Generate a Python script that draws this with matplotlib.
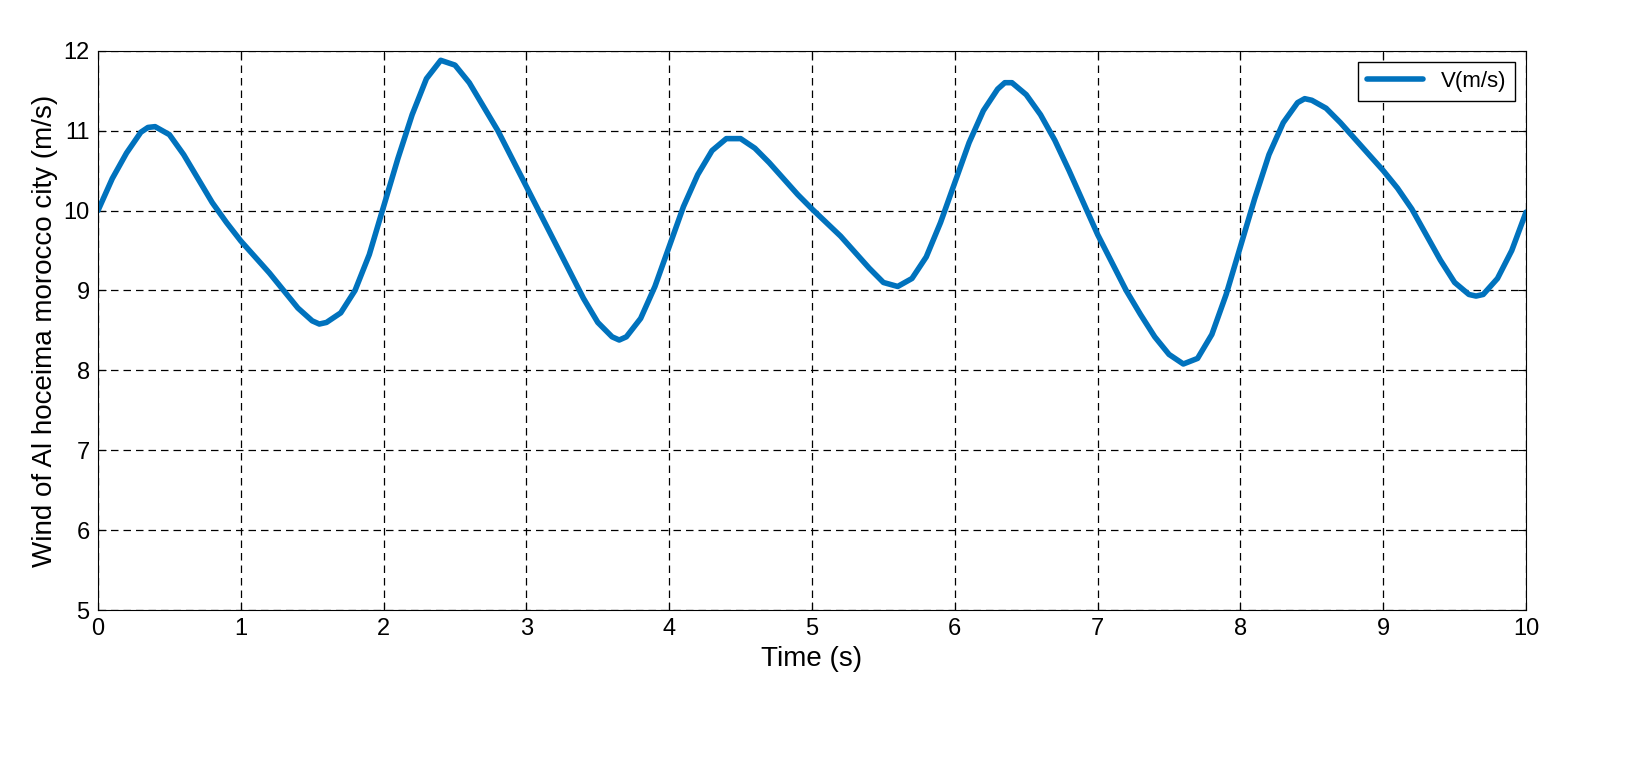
import numpy as np
import matplotlib.pyplot as plt

plt.rcParams['font.family'] = ['Liberation Sans', 'DejaVu Sans']

# values
time_s = [0, 0.1, 0.2, 0.3, 0.35, 0.4, 0.5, 0.6, 0.7, 0.8, 0.9, 1.0, 1.1,
          1.2, 1.3, 1.4, 1.5, 1.55, 1.6, 1.7, 1.8, 1.9, 2.0, 2.1, 2.2, 2.3,
          2.4, 2.5, 2.6, 2.7, 2.8, 2.9, 3.0, 3.1, 3.2, 3.3, 3.4, 3.5, 3.6,
          3.65, 3.7, 3.8, 3.9, 4.0, 4.1, 4.2, 4.3, 4.4, 4.5, 4.6, 4.7, 4.8,
          4.9, 5.0, 5.1, 5.2, 5.3, 5.4, 5.5, 5.6, 5.7, 5.8, 5.9, 6.0, 6.1,
          6.2, 6.3, 6.35, 6.4, 6.5, 6.6, 6.7, 6.8, 6.9, 7.0, 7.1, 7.2, 7.3,
          7.4, 7.5, 7.6, 7.7, 7.8, 7.9, 8.0, 8.1, 8.2, 8.3, 8.4, 8.45, 8.5,
          8.6, 8.7, 8.8, 8.9, 9.0, 9.1, 9.2, 9.3, 9.4, 9.5, 9.6, 9.65, 9.7,
          9.8, 9.9, 10.0]
wind = [10.0, 10.4, 10.72, 10.98, 11.04, 11.05, 10.95, 10.7, 10.4, 10.1,
        9.85, 9.62, 9.42, 9.22, 9.0, 8.78, 8.62, 8.58, 8.6, 8.72, 9.0, 9.45,
        10.05, 10.65, 11.2, 11.65, 11.88, 11.82, 11.6, 11.3, 11.0, 10.65,
        10.3, 9.95, 9.6, 9.25, 8.9, 8.6, 8.42, 8.38, 8.42, 8.65, 9.05, 9.55,
        10.05, 10.45, 10.75, 10.9, 10.9, 10.78, 10.6, 10.4, 10.2, 10.02,
        9.85, 9.68, 9.48, 9.28, 9.1, 9.05, 9.15, 9.42, 9.85, 10.35, 10.85,
        11.25, 11.52, 11.6, 11.6, 11.45, 11.2, 10.88, 10.5, 10.1, 9.7, 9.35,
        9.0, 8.7, 8.42, 8.2, 8.08, 8.15, 8.45, 8.95, 9.55, 10.15, 10.7, 11.1,
        11.35, 11.4, 11.38, 11.28, 11.1, 10.9, 10.7, 10.5, 10.28, 10.02, 9.7,
        9.38, 9.1, 8.95, 8.93, 8.95, 9.15, 9.5, 9.98]

fig = plt.figure(figsize=(16.33, 7.57), dpi=100)
ax = fig.add_axes([0.06, 0.194, 0.8745, 0.739])
ax.plot(time_s, wind, color='#0072BD', lw=4, label='V(m/s)',
        solid_joinstyle='round', solid_capstyle='round')
ax.set_xlim(0, 10)
ax.set_ylim(5, 12)
ax.set_xticks(range(0, 11))
ax.set_yticks(range(5, 13))
ax.grid(True, color='black', linestyle=(0, (6, 4)), lw=0.9)
ax.tick_params(labelsize=17, direction='in', length=6, pad=6,
               top=True, right=True)
ax.set_xlabel('Time (s)', fontsize=20)
ax.set_ylabel('Wind of Al hoceima morocco city (m/s)', fontsize=20)
leg = ax.legend(loc='upper right', fontsize=16, fancybox=False,
                edgecolor='black', framealpha=1, handlelength=2.5)
leg.get_frame().set_linewidth(1)
fig.savefig('out.png')
